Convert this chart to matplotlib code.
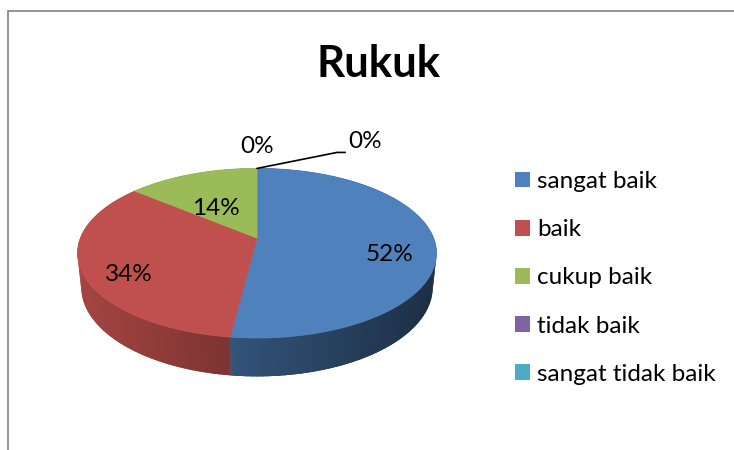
import numpy as np
import matplotlib
matplotlib.use("Agg")
import matplotlib.pyplot as plt
from matplotlib.patches import Polygon, Patch, Rectangle

plt.rcParams["font.family"] = ["Lato", "DejaVu Sans"]

# === Data ===
title = "Rukuk"
categories = ["sangat baik", "baik", "cukup baik", "tidak baik", "sangat tidak baik"]
values = [52, 34, 14, 0, 0]
colors = ["#4F81BD", "#C0504D", "#9BBB59", "#8064A2", "#4BACC6"]

# === 3D pie geometry (pixel units, y down) ===
CX, CY = 257, 238          # pie centre on screen
TILT = np.radians(27.7)    # viewing elevation
DIST = 4.94                # camera distance (pie radius = 1)
FOCAL = 872                # pixels per unit at distance 1
THICK = 0.22               # pie thickness


def project(theta, r=1.0, z=0.0):
    """theta in degrees, clockwise from 12 o'clock. Returns screen (x, y)."""
    t = np.radians(theta)
    u = r * np.sin(t)
    v = r * np.cos(t)
    depth = DIST + v * np.cos(TILT) - z * np.sin(TILT)
    up = v * np.sin(TILT) + z * np.cos(TILT)
    return CX + FOCAL * u / depth, CY - FOCAL * up / depth


def shade(color, x):
    # darker towards the right, like Excel's side lighting
    rgb = np.array(matplotlib.colors.to_rgb(color))
    t = np.clip((x - (CX - 180)) / 360.0, 0, 1)
    return tuple(rgb * (0.86 - 0.5 * t))


fig = plt.figure(figsize=(7.34, 4.5), dpi=100)
ax = fig.add_axes([0, 0, 1, 1])
ax.set_xlim(0, 734)
ax.set_ylim(450, 0)
ax.axis("off")

total = float(sum(values))
cum = np.cumsum(values)
starts = 360.0 * (cum - np.array(values)) / total
ends = 360.0 * cum / total

# --- side walls: a flat base per slice, then shaded strips (far first) ---
strips = []
for val, col, a0, a1 in zip(values, colors, starts, ends):
    if val == 0:
        continue
    angs = np.linspace(a0, a1, max(int(a1 - a0), 2) + 1)
    top = [project(a) for a in angs]
    bot = [project(a, z=-THICK) for a in angs[::-1]]
    mid_x = project((a0 + a1) / 2)[0]
    ax.add_patch(Polygon(top + bot, closed=True, facecolor=shade(col, mid_x),
                         edgecolor="none", lw=0))

    n = max(int((a1 - a0) / 1.5), 2)
    edges = np.linspace(a0, a1, n + 1)
    for i, (b0, b1) in enumerate(zip(edges[:-1], edges[1:])):
        e1 = b1 + 0.4 if i < n - 1 else b1
        pts = [project(b0), project(e1), project(e1, z=-THICK), project(b0, z=-THICK)]
        far = np.cos(np.radians((b0 + b1) / 2))
        xm = (pts[0][0] + pts[1][0]) / 2
        strips.append((far, pts, shade(col, xm)))
strips.sort(key=lambda s: -s[0])
for _, pts, c in strips:
    ax.add_patch(Polygon(pts, closed=True, facecolor=c, edgecolor="none", lw=0))

# --- top faces ---
for val, col, a0, a1 in zip(values, colors, starts, ends):
    if val == 0:
        continue
    angs = np.linspace(a0, a1, max(int(a1 - a0), 2) + 1)
    pts = [(CX, CY)] + [project(a) for a in angs]
    ax.add_patch(Polygon(pts, closed=True, facecolor=col, edgecolor=col, lw=0.6))

# --- data labels ---
label_fs = 17.5
zero_count = 0
for val, a0, a1 in zip(values, starts, ends):
    txt = f"{val / total * 100:.0f}%"
    if val > 0:
        r = 0.75 if val / total > 0.2 else 0.6
        x, y = project((a0 + a1) / 2, r=r, z=-0.08)
        ax.text(x, y, txt, ha="center", va="center", fontsize=label_fs, color="black")
    else:
        rx, ry = project(a1)
        if zero_count == 0:
            ax.text(rx, ry - 22, txt, ha="center", va="center", fontsize=label_fs)
        else:
            ax.annotate(txt, xy=(rx, ry), xytext=(rx + 91, ry - 16),
                        ha="left", va="bottom", fontsize=label_fs,
                        arrowprops=dict(arrowstyle="-", color="black", lw=1.2,
                                        shrinkA=0, shrinkB=0, relpos=(0, 0),
                                        connectionstyle="angle,angleA=0,angleB=11.3,rad=0"))
        zero_count += 1

# --- title ---
fig.text(379 / 734, 1 - 64 / 450, title, ha="center", va="center",
         fontsize=31.5, fontweight="bold")

# --- legend ---
handles = [Patch(facecolor=c, edgecolor="none") for c in colors]
fig.legend(handles, categories, loc="upper left",
           bbox_to_anchor=(515 / 734, 1 - 171 / 450), frameon=False,
           fontsize=17.5, handlelength=0.62, handleheight=0.62,
           handletextpad=0.29, labelspacing=1.12, borderpad=0, borderaxespad=0)

# --- chart area border (only top/left visible in the crop) ---
fig.patches.append(Rectangle((8 / 734, -0.2), 1.5, 1.2 - 11 / 450,
                             transform=fig.transFigure, fill=False,
                             edgecolor="#8C8C8C", lw=1.3))

fig.savefig("out.png", dpi=100)
